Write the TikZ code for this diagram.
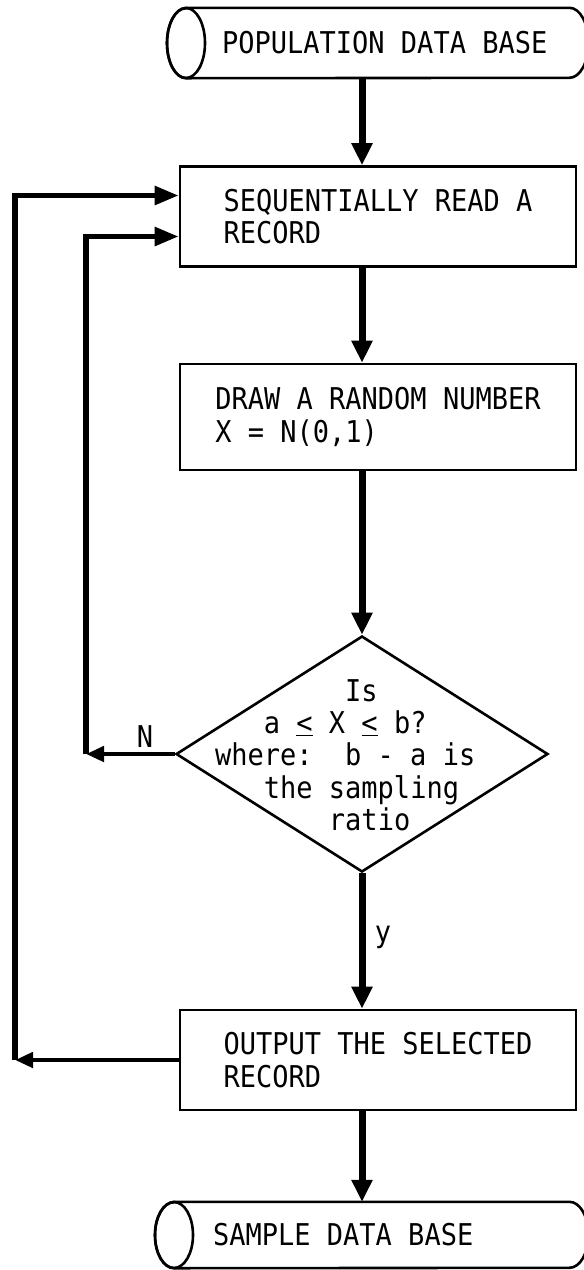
\documentclass[tikz,border=0pt]{standalone}
\usepackage{fontspec}
\newfontfamily\typefont[FakeStretch=0.9]{DejaVu Sans Mono}
\usetikzlibrary{shapes.geometric, arrows.meta, calc}

\begin{document}
\begin{tikzpicture}[x=1pt, y=1pt,
    every node/.style={font={\typefont\fontsize{30}{32.3}\selectfont}},
    procBox/.style={draw, line width=2.6pt, rectangle, minimum width=396pt, minimum height=100pt, align=left, inner sep=0pt},
    dbase/.style={anchor=west, inner sep=0pt},
    dbLine/.style={line width=2.6pt},
    flowArrow/.style={line width=7pt, -{Triangle[length=22pt, width=20pt]}},
    backArrow/.style={line width=5.5pt, -{Triangle[length=24pt, width=18pt]}},
    cornerArrow/.style={line width=4.5pt, -{Triangle[length=18pt, width=15pt]}}
]
    % Fix the page size
    \useasboundingbox (0,0) rectangle (584,-1270);

    % Define the columns of the connectors
    \def\spineX{362}
    \coordinate (spine) at (\spineX,0);
    \coordinate (innerX) at (86,0);
    \coordinate (outerX) at (15,0);

    % Data bases
    \node[dbase, minimum height=70pt] (popDB) at (222,-43) {POPULATION DATA BASE};
    \node[dbase, minimum height=66pt] (smpDB) at (213,-1235) {SAMPLE DATA BASE};

    % Draw the data base outlines (left and right reach past the text)
    \foreach \db/\ry/\lx/\rx in {popDB/35/55/41, smpDB/33/58/115} {
        \draw[dbLine] ($(\db.north west)+(19-\lx,0)$) -- ($(\db.north east)+(\rx-19,0)$)
            arc[start angle=90, end angle=-90, x radius=19, y radius=\ry]
            -- ($(\db.south west)+(19-\lx,0)$)
            arc[start angle=270, end angle=90, x radius=19, y radius=\ry] -- cycle;
        \draw[dbLine] ($(\db.west)+(19-\lx,0)$) ellipse[x radius=19, y radius=\ry];
    }

    % Process boxes
    \node[procBox] (readBox) at (378,-216.5) {SEQUENTIALLY READ A\\RECORD};
    \node[procBox, minimum height=106pt] (drawBox) at (378,-417) {DRAW A RANDOM NUMBER\\X = N(0,1)};
    \node[procBox] (outBox) at (378,-1060) {OUTPUT THE SELECTED\\RECORD};

    % Decision
    \node[draw, diamond, line width=2.6pt, minimum width=372pt, minimum height=236pt, inner sep=0pt] (isq) at (\spineX,-754) {};
    \node[anchor=west, align=left, inner sep=0pt] (isText) at (215,-755)
        {\phantom{xxxxxxxx}Is\\
         \phantom{xxx}a \underline{<} X \underline{<} b?\\
         where:~~b - a is\\
         \phantom{xxx}the sampling\\
         \phantom{xxxxxxx}ratio};

    % Branch labels
    \node (nLabel) at (145,-737) {N};
    \node (yLabel) at (383,-937) {y};

    % Main flow
    \draw[flowArrow] (popDB.south -| spine) -- (readBox.north -| spine);
    \draw[flowArrow] (readBox.south -| spine) -- (drawBox.north -| spine);
    \draw[flowArrow] (drawBox.south -| spine) -- (isq.north);
    \draw[flowArrow] (isq.south) -- (outBox.north -| spine);
    \draw[flowArrow] (outBox.south -| spine) -- (smpDB.north -| spine);

    % Loops back to the read box
    \draw[cornerArrow] (isq.west) -- (isq.west -| innerX);
    \draw[backArrow] (isq.west -| innerX) |- ([yshift=-20pt]readBox.west);
    \draw[cornerArrow] (outBox.west) -- (outBox.west -| outerX);
    \draw[backArrow] (outBox.west -| outerX) |- ([yshift=21pt]readBox.west);

\end{tikzpicture}
\end{document}
